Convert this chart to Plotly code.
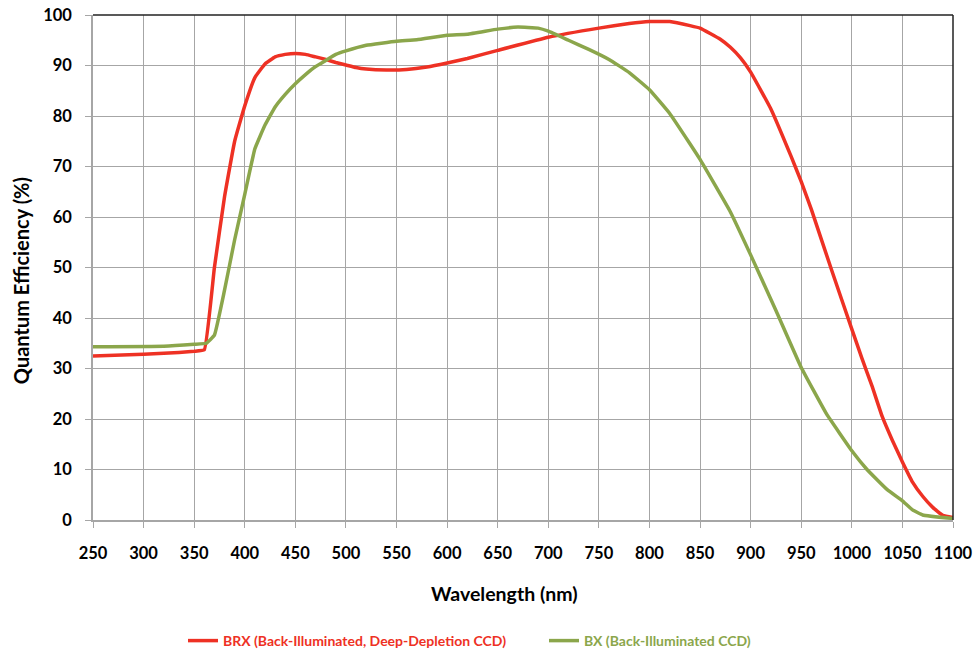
import plotly.graph_objects as go

brx_wl = [250, 300, 320, 350, 360, 370, 380, 390, 400, 410, 420, 430, 440, 450, 460, 470, 480, 490, 500,
          510, 520, 540, 560, 580, 600, 620, 650, 700, 750, 780, 800, 820, 840, 850, 870, 880, 890, 900,
          920, 940, 950, 960, 980, 1000, 1010, 1020, 1030, 1040, 1050, 1060, 1070, 1080, 1090, 1100]
brx_qe = [32.5, 32.8, 33.0, 33.4, 33.7, 50.0, 64.0, 75.0, 82.0, 87.6, 90.3, 91.7, 92.2, 92.4, 92.2, 91.7,
          91.2, 90.6, 90.1, 89.6, 89.3, 89.1, 89.2, 89.7, 90.5, 91.4, 93.0, 95.6, 97.4, 98.3, 98.7, 98.7,
          97.9, 97.4, 95.2, 93.6, 91.5, 88.7, 81.4, 72.0, 67.0, 61.5, 49.5, 37.8, 32.0, 26.5, 20.5, 15.8,
          11.5, 7.5, 4.7, 2.5, 0.9, 0.5]

bx_wl = [250, 320, 350, 362, 370, 380, 390, 400, 410, 420, 430, 440, 450, 460, 470, 480, 490, 500, 520,
         550, 570, 600, 620, 650, 670, 690, 700, 720, 740, 760, 780, 800, 820, 840, 850, 880, 900, 925,
         950, 975, 1000, 1015, 1035, 1050, 1060, 1070, 1100]
bx_qe = [34.3, 34.4, 34.8, 35.0, 36.6, 45.5, 55.5, 64.5, 73.5, 78.2, 81.8, 84.3, 86.4, 88.2, 89.8, 91.0,
         92.2, 92.9, 94.0, 94.8, 95.1, 96.0, 96.2, 97.2, 97.6, 97.4, 96.8, 95.0, 93.2, 91.2, 88.6, 85.2,
         80.5, 74.5, 71.4, 61.0, 52.5, 41.5, 30.2, 21.0, 13.7, 10.0, 6.0, 3.8, 2.0, 1.0, 0.3]

x_ticks = list(range(250, 1101, 50))
y_ticks = list(range(0, 101, 10))

x_title = "Wavelength (nm)"
y_title = "Quantum Efficiency (%)"

RED = "#EE3124"
GREEN = "#8BA64B"

fig = go.Figure()
fig.add_trace(go.Scatter(
    x=brx_wl, y=brx_qe, mode="lines",
    line=dict(color=RED, width=3.5, shape="spline", smoothing=0.3),
    name=f"<span style='color:{RED}'>BRX (Back-Illuminated, Deep-Depletion CCD)</span>",
))
fig.add_trace(go.Scatter(
    x=bx_wl, y=bx_qe, mode="lines",
    line=dict(color=GREEN, width=3.5, shape="spline", smoothing=0.3),
    name=f"<span style='color:{GREEN}'>BX (Back-Illuminated CCD)</span>",
))

font_family = "Lato"
W, H = 975, 649
fig.update_layout(
    width=W, height=H,
    margin=dict(l=93, r=22, t=15, b=129, autoexpand=False),
    paper_bgcolor="white", plot_bgcolor="white",
    font=dict(family=font_family, size=16, color="black", weight="bold"),
    showlegend=True,
    legend=dict(
        orientation="h", xref="container", yref="container",
        x=183 / W, y=8 / H, xanchor="left", yanchor="middle",
        font=dict(size=14, family=font_family, weight="bold"),
        traceorder="normal", bgcolor="rgba(0,0,0,0)",
        entrywidth=316,
    ),
    xaxis=dict(
        range=[250, 1100], tickvals=x_ticks, ticktext=[str(v) for v in x_ticks],
        showgrid=True, gridcolor="#A6A6A6", gridwidth=1.3,
        showline=True, linecolor="#A6A6A6", linewidth=1.5,
        ticks="outside", ticklen=6, tickcolor="#A6A6A6", tickwidth=1.3,
        ticklabelstandoff=11, automargin=False, ticklabeloverflow="allow",
        zeroline=False,
        tickfont=dict(size=16.5, weight="bold"),
    ),
    yaxis=dict(
        range=[0, 100], tickvals=y_ticks, ticktext=[str(v) for v in y_ticks],
        showgrid=True, gridcolor="#A6A6A6", gridwidth=1.3,
        showline=True, linecolor="#A6A6A6", linewidth=1.5,
        ticks="outside", ticklen=6, tickcolor="#A6A6A6", tickwidth=1.3,
        ticklabelstandoff=10, automargin=False, ticklabeloverflow="allow",
        zeroline=False,
        tickfont=dict(size=16.5, weight="bold"),
    ),
    annotations=[
        dict(text=x_title, xref="paper", yref="paper", x=0.479, y=-0.1465,
             xanchor="center", yanchor="middle", showarrow=False,
             font=dict(size=19.5, weight="bold", family=font_family)),
        dict(text=y_title, xref="paper", yref="paper", x=-0.0837, y=0.473,
             xanchor="center", yanchor="middle", showarrow=False, textangle=-90,
             font=dict(size=20, weight="bold", family=font_family)),
    ],
)

# dark top and right frame lines
fig.add_shape(type="line", xref="paper", yref="paper", x0=0, x1=1, y0=1, y1=1,
              line=dict(color="#222222", width=1.5))
fig.add_shape(type="line", xref="paper", yref="paper", x0=1, x1=1, y0=0, y1=1,
              line=dict(color="#222222", width=1.5))

fig.write_html("out.html", config={"displayModeBar": False},
               post_script="document.body.style.margin='0px';")
